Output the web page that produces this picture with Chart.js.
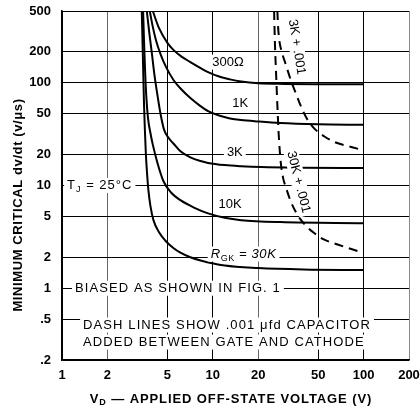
<!DOCTYPE html>
<html>
<head>
<meta charset="utf-8">
<script src="https://cdn.jsdelivr.net/npm/chart.js@4.4.1/dist/chart.umd.min.js"></script>
<style>
    html, body { margin: 0; padding: 0; background: #fff; }
</style>
</head>
<body>
<canvas id="dvdtChart" width="420" height="409"></canvas>
<script>
// Axis ticks
const xTicks = [1, 2, 5, 10, 20, 50, 100, 200];
const yTicks = [0.2, 0.5, 1, 2, 5, 10, 20, 50, 100, 200, 500];
const yTickLabels = [".2", ".5", "1", "2", "5", "10", "20", "50", "100", "200", "500"];

// Solid curves (R_GK), V_D in volts / dv/dt in V/us
const vd300 = [4.0, 4.4, 5.0, 5.5, 6.2, 7.1, 8.3, 9.3, 11, 13, 15.4, 20, 30, 50, 100];
const dv300 = [500, 340, 245, 208, 180, 159, 139, 127, 115, 108, 103, 99, 97.5, 97, 97];

const vd1k = [3.82, 4.0, 4.2, 4.5, 4.9, 5.5, 6.2, 7.1, 8.2, 9.3, 11, 13, 15.4, 20, 28, 50, 100];
const dv1k = [500, 350, 260, 190, 142, 106, 86, 71, 60, 53, 48, 45, 43.4, 42, 40.6, 39.5, 39];

const vd3k = [3.65, 3.8, 3.95, 4.1, 4.3, 4.5, 4.75, 5.1, 5.5, 6.1, 7.1, 8.3, 9.3, 12, 15.4, 21, 40, 100];
const dv3k = [500, 300, 190, 120, 75, 50, 35, 29, 25.5, 21.5, 18.8, 17.3, 16.6, 15.8, 15.4, 15.1, 14.9, 14.8];

const vd10k = [3.45, 3.5, 3.55, 3.62, 3.72, 3.85, 4.0, 4.3, 4.71, 5.3, 6.1, 7.5, 9.3, 12, 15.4, 28, 100];
const dv10k = [500, 250, 140, 75, 45, 33, 25, 16.5, 11, 8.5, 7.2, 6.1, 5.35, 4.85, 4.6, 4.4, 4.3];

const vd30k = [3.38, 3.42, 3.46, 3.5, 3.55, 3.6, 3.66, 3.74, 3.86, 4.04, 4.4, 4.85, 5.5, 6.1, 7.1, 8.3, 12, 20, 40, 100];
const dv30k = [500, 250, 120, 60, 33, 20, 13.5, 9, 6.3, 4.6, 3.5, 2.9, 2.45, 2.22, 2.0, 1.86, 1.66, 1.57, 1.52, 1.5];

// Dashed curves (.001 uF gate-cathode capacitor)
const vd3kCap = [26.8, 27.1, 27.6, 28.4, 30.5, 33, 36, 39, 42, 47, 55, 64, 80, 100];
const dv3kCap = [500, 350, 260, 210, 150, 105, 75, 56, 45, 36, 30, 26.5, 24, 22];

const vd30kCap = [25.5, 25.8, 26.3, 26.8, 27.4, 28.2, 29.2, 30.6, 33, 37, 40.5, 47, 54, 68, 100];
const dv30kCap = [500, 250, 120, 60, 30, 17, 12, 9.5, 6.9, 5.0, 4.2, 3.45, 3.0, 2.65, 2.2];

const FONT = "'Liberation Sans', Arial, Helvetica, sans-serif";

function toPoints(xs, ys) {
    return xs.map((v, i) => ({ x: v, y: ys[i] }));
}

function curve(xs, ys, dashed) {
    return {
        data: toPoints(xs, ys),
        showLine: true,
        borderColor: "#000",
        borderWidth: 2,
        borderDash: dashed ? [9, 6] : [],
        pointRadius: 0,
        cubicInterpolationMode: "monotone",
        fill: false
    };
}

// Text notes placed in data coordinates
const notes = [
    { parts: [["300Ω"]], x: 12.6, y: 159 },
    { parts: [["1K"]], x: 15.2, y: 63.5 },
    { parts: [["3K"]], x: 14, y: 21 },
    { parts: [["10K"]], x: 13, y: 6.6 },
    { parts: [["R", "it"], ["GK", "sub"], [" = 30K", "it"]], x: 16, y: 2.15, sp: 0.6 },
    { parts: [["T"], ["J", "sub"], [" = 25°C"]], x: 1.78, y: 10, sp: 1 },
    { parts: [["BIASED AS SHOWN IN FIG. 1"]], x: 5.87, y: 1, sp: 1.1 },
    { parts: [["DASH LINES SHOW .001 μfd CAPACITOR"]], x: 1.38, y: 0.438, align: "left", sp: 1.1 },
    { parts: [["ADDED BETWEEN GATE AND CATHODE"]], x: 1.38, y: 0.299, align: "left", sp: 1.1 },
    { parts: [["3K + .001"]], x: 36, y: 223, rot: 81 },
    { parts: [["30K + .001"]], x: 37, y: 10.8, rot: 76 }
];

function partFont(kind, size, bold) {
    const w = bold ? "bold " : "";
    if (kind === "sub") return `${w}${size - 4}px ${FONT}`;
    if (kind === "it") return `italic ${w}${size}px ${FONT}`;
    return `${w}${size}px ${FONT}`;
}

function drawParts(ctx, parts, px, py, opts) {
    const size = opts.size || 13;
    const sp = opts.sp || 0;
    ctx.save();
    ctx.letterSpacing = sp + "px";
    let w = 0;
    parts.forEach(p => {
        ctx.font = partFont(p[1], size, opts.bold);
        w += ctx.measureText(p[0]).width;
    });
    ctx.translate(px, py);
    ctx.rotate((opts.rot || 0) * Math.PI / 180);
    let x0 = opts.align === "left" ? 0 : -w / 2;
    if (opts.bg) {
        ctx.fillStyle = "#fff";
        ctx.fillRect(x0 - 3, -size / 2 - 1, w + 6, size + 2);
    }
    ctx.fillStyle = "#000";
    ctx.textBaseline = "middle";
    ctx.textAlign = "left";
    parts.forEach(p => {
        ctx.font = partFont(p[1], size, opts.bold);
        ctx.fillText(p[0], x0, p[1] === "sub" ? 4 : 0);
        x0 += ctx.measureText(p[0]).width;
    });
    ctx.restore();
}

const textPlugin = {
    id: "dvdtText",
    afterDatasetsDraw(chart) {
        const ctx = chart.ctx;
        const xs = chart.scales.x;
        const ys = chart.scales.y;
        notes.forEach(n => {
            drawParts(ctx, n.parts, xs.getPixelForValue(n.x), ys.getPixelForValue(n.y),
                { bg: true, rot: n.rot, align: n.align, size: 13, sp: n.sp });
        });
    },
    afterDraw(chart) {
        const ctx = chart.ctx;
        // y axis title
        ctx.save();
        ctx.translate(18, 205);
        ctx.rotate(-Math.PI / 2);
        ctx.font = `bold 13px ${FONT}`;
        ctx.letterSpacing = "0.6px";
        ctx.fillStyle = "#000";
        ctx.textAlign = "center";
        ctx.textBaseline = "middle";
        ctx.fillText("MINIMUM CRITICAL dv/dt (v/μs)", 0, 0);
        ctx.restore();
        // x axis title
        drawParts(ctx, [["V"], ["D", "sub"], [" — APPLIED OFF-STATE VOLTAGE (V)"]], 231, 399,
            { size: 13, bold: true, sp: 0.9 });
    }
};

const gridColorX = c => {
    const v = c.tick && c.tick.value;
    if (v === 2 || v === 20) return "#666";
    if (v === 200) return "#888";
    return "#000";
};

new Chart(document.getElementById("dvdtChart"), {
    type: "scatter",
    data: {
        datasets: [
            curve(vd300, dv300),
            curve(vd1k, dv1k),
            curve(vd3k, dv3k),
            curve(vd10k, dv10k),
            curve(vd30k, dv30k),
            curve(vd3kCap, dv3kCap, true),
            curve(vd30kCap, dv30kCap, true)
        ]
    },
    options: {
        responsive: false,
        animation: false,
        layout: { padding: { top: 11, right: 11, left: 0, bottom: 0 } },
        plugins: {
            legend: { display: false },
            tooltip: { enabled: false }
        },
        scales: {
            x: {
                type: "logarithmic",
                min: 1,
                max: 200,
                afterBuildTicks: s => { s.ticks = xTicks.map(v => ({ value: v })); },
                afterFit: s => { s.height = 49; s.paddingLeft = 0; s.paddingRight = 0; },
                ticks: {
                    callback: (v, i) => String(xTicks[i]),
                    font: { family: FONT, size: 13, weight: "bold" },
                    color: "#000",
                    padding: 8,
                    maxRotation: 0,
                    autoSkip: false
                },
                grid: { color: gridColorX, lineWidth: 1, drawTicks: false },
                border: { color: "#000", width: 1.5 }
            },
            y: {
                type: "logarithmic",
                min: 0.2,
                max: 500,
                afterBuildTicks: s => { s.ticks = yTicks.map(v => ({ value: v })); },
                afterFit: s => { s.width = 62; s.paddingTop = 0; s.paddingBottom = 0; },
                ticks: {
                    callback: (v, i) => yTickLabels[i],
                    font: { family: FONT, size: 13, weight: "bold" },
                    color: "#000",
                    padding: 11,
                    autoSkip: false
                },
                grid: { color: "#000", lineWidth: 1, drawTicks: false },
                border: { color: "#000", width: 1.5 }
            }
        }
    },
    plugins: [textPlugin]
});
</script>
</body>
</html>
